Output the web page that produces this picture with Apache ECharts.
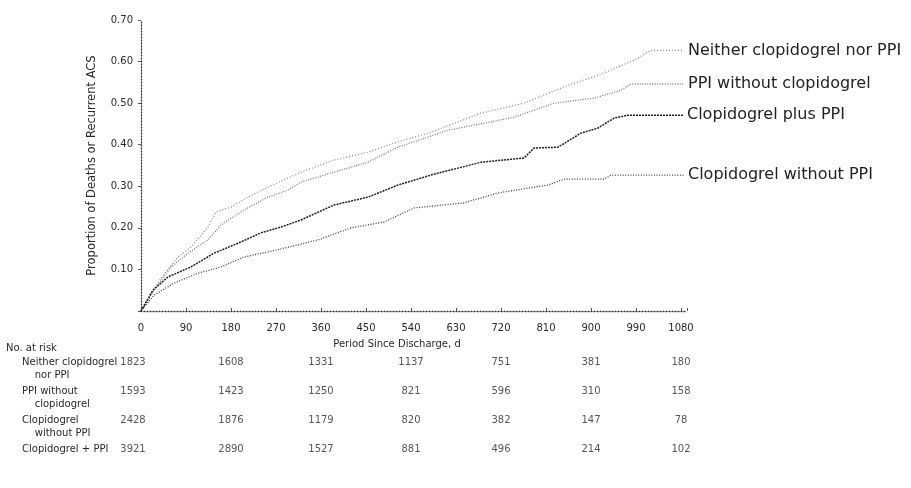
<!DOCTYPE html>
<html>
<head>
<meta charset="utf-8">
<script src="https://cdn.jsdelivr.net/npm/echarts@6/dist/echarts.min.js"></script>
<style>
  html, body { margin: 0; padding: 0; background: #fff; }
  #chart { width: 911px; height: 488px; }
</style>
</head>
<body>
<div id="chart"></div>
<script>
// Cumulative proportion of deaths or recurrent ACS, by treatment group.
// Each curve: [day, proportion] pairs.
const neitherCurve = [
  [0, 0], [20, 0.043], [40, 0.079], [74, 0.130], [100, 0.154], [134, 0.202],
  [150, 0.238], [180, 0.250], [214, 0.274], [254, 0.298], [294, 0.320],
  [320, 0.334], [386, 0.363], [454, 0.382], [506, 0.404], [580, 0.430],
  [680, 0.476], [766, 0.500], [854, 0.543], [914, 0.567], [986, 0.603],
  [1020, 0.627], [1086, 0.627]
];
const ppiOnlyCurve = [
  [0, 0], [26, 0.050], [60, 0.106], [94, 0.139], [134, 0.171], [160, 0.207],
  [206, 0.243], [254, 0.274], [294, 0.291], [320, 0.310], [386, 0.334],
  [454, 0.358], [514, 0.394], [614, 0.435], [746, 0.466], [826, 0.500],
  [906, 0.512], [960, 0.531], [980, 0.546], [1086, 0.546]
];
const clopPlusPpiCurve = [
  [0, 0], [24, 0.050], [54, 0.082], [100, 0.106], [146, 0.139], [194, 0.163],
  [240, 0.188], [280, 0.202], [320, 0.219], [386, 0.255], [454, 0.274],
  [514, 0.303], [580, 0.327], [680, 0.358], [766, 0.368], [786, 0.392],
  [834, 0.394], [880, 0.428], [914, 0.440], [946, 0.464], [974, 0.471],
  [1084, 0.471]
];
const clopOnlyCurve = [
  [0, 0], [26, 0.038], [66, 0.067], [114, 0.091], [160, 0.106], [206, 0.130],
  [254, 0.142], [286, 0.151], [354, 0.171], [420, 0.200], [486, 0.214],
  [546, 0.248], [646, 0.260], [714, 0.284], [814, 0.303], [846, 0.317],
  [926, 0.317], [940, 0.327], [1086, 0.327]
];

const seriesNames = [
  'Neither clopidogrel nor PPI',
  'PPI without clopidogrel',
  'Clopidogrel plus PPI',
  'Clopidogrel without PPI'
];

// Numbers at risk
const riskDays = [0, 180, 360, 540, 720, 900, 1080];
const riskRowLabels = [
  ['Neither clopidogrel', 'nor PPI'],
  ['PPI without', 'clopidogrel'],
  ['Clopidogrel', 'without PPI'],
  ['Clopidogrel + PPI']
];
const riskNeither = [1823, 1608, 1331, 1137, 751, 381, 180];
const riskPpiOnly = [1593, 1423, 1250, 821, 596, 310, 158];
const riskClopOnly = [2428, 1876, 1179, 820, 382, 147, 78];
const riskClopPlusPpi = [3921, 2890, 1527, 881, 496, 214, 102];

const yTicks = [0, 0.1, 0.2, 0.3, 0.4, 0.5, 0.6, 0.7];

const FONT = 'DejaVu Sans';
const TXT = '#2a2a2a';
const X_MAX = 1092;

const riskRows = [riskNeither, riskPpiOnly, riskClopOnly, riskClopPlusPpi];
const riskData = [];
riskRows.forEach((row, r) => {
  row.forEach((n, i) => {
    const item = { value: [riskDays[i], r, n] };
    if (riskDays[i] === 0) item.label = { offset: [-8, 0] };
    riskData.push(item);
  });
});

const curveStyles = [
  { color: '#8c8c8c', width: 1.3, type: [1, 2] },
  { color: '#7a7a7a', width: 1.3, type: [1, 1.5] },
  { color: '#1e1e1e', width: 1.5, type: [2, 1] },
  { color: '#3c3c3c', width: 1.3, type: [1, 1.6] }
];
const curves = [neitherCurve, ppiOnlyCurve, clopPlusPpiCurve, clopOnlyCurve];

const lineSeries = curves.map((d, i) => ({
  name: seriesNames[i],
  type: 'line',
  xAxisIndex: 0,
  yAxisIndex: 0,
  data: d,
  symbol: 'none',
  lineStyle: curveStyles[i],
  clip: false,
  silent: true,
  endLabel: {
    show: true,
    formatter: '{a}',
    distance: 4,
    fontFamily: FONT,
    fontSize: 16,
    color: '#222'
  }
}));

const chart = echarts.init(document.getElementById('chart'), null, { renderer: 'canvas' });

const dotted = { color: '#333', width: 1.3, type: [1, 2] };

chart.setOption({
  animation: false,
  backgroundColor: '#fff',
  grid: [
    { left: 141, right: 911 - 687, top: 20, height: 291 },
    { left: 141, right: 911 - 687, top: 348, height: 116 }
  ],
  xAxis: [
    {
      gridIndex: 0,
      type: 'value',
      min: 0,
      max: X_MAX,
      interval: 90,
      name: 'Period Since Discharge, d',
      nameLocation: 'middle',
      nameGap: 28,
      nameTextStyle: { fontFamily: FONT, fontSize: 10, color: TXT, padding: [0, 34, 0, 0] },
      axisLine: { lineStyle: dotted },
      axisTick: { show: true, inside: true, length: 3, lineStyle: { color: '#555' } },
      splitLine: { show: false },
      axisLabel: {
        fontFamily: FONT, fontSize: 10, color: TXT, margin: 12,
        formatter: v => (v % 90 === 0 ? String(v) : '')
      }
    },
    {
      gridIndex: 1,
      type: 'value',
      min: 0,
      max: X_MAX,
      show: false
    }
  ],
  yAxis: [
    {
      gridIndex: 0,
      type: 'value',
      min: 0,
      max: 0.7,
      interval: 0.1,
      name: 'Proportion of Deaths or Recurrent ACS',
      nameLocation: 'middle',
      nameGap: 43,
      nameTextStyle: { fontFamily: FONT, fontSize: 11.5, color: TXT },
      axisLine: { show: true, lineStyle: dotted },
      axisTick: { show: true, length: 3, lineStyle: { color: '#555' } },
      splitLine: { show: false },
      axisLabel: {
        fontFamily: FONT, fontSize: 10, color: TXT, margin: 8,
        formatter: v => (v === 0 ? '' : yTicks.find(t => Math.abs(t - v) < 1e-9).toFixed(2))
      }
    },
    {
      gridIndex: 1,
      type: 'category',
      inverse: true,
      data: riskRowLabels.map(l => l.join('|')),
      axisLine: { show: false },
      axisTick: { show: false },
      splitLine: { show: false },
      axisLabel: {
        interval: 0,
        hideOverlap: false,
        align: 'left',
        margin: 141 - 22,
        fontFamily: FONT,
        fontSize: 10,
        lineHeight: 13,
        color: TXT,
        formatter: v => {
          const parts = v.split('|');
          return parts.length > 1 ? '\n' + parts[0] + '\n    ' + parts[1] : parts[0];
        }
      }
    }
  ],
  graphic: [
    {
      type: 'text',
      left: 6,
      top: 343,
      style: { text: 'No. at risk', font: '10px "DejaVu Sans"', fill: TXT }
    }
  ],
  series: lineSeries.concat([
    {
      type: 'scatter',
      xAxisIndex: 1,
      yAxisIndex: 1,
      data: riskData,
      symbolSize: 0,
      silent: true,
      label: {
        show: true,
        position: 'inside',
        formatter: p => String(p.value[2]),
        fontFamily: FONT,
        fontSize: 10,
        color: TXT
      }
    }
  ])
});
</script>
</body>
</html>
